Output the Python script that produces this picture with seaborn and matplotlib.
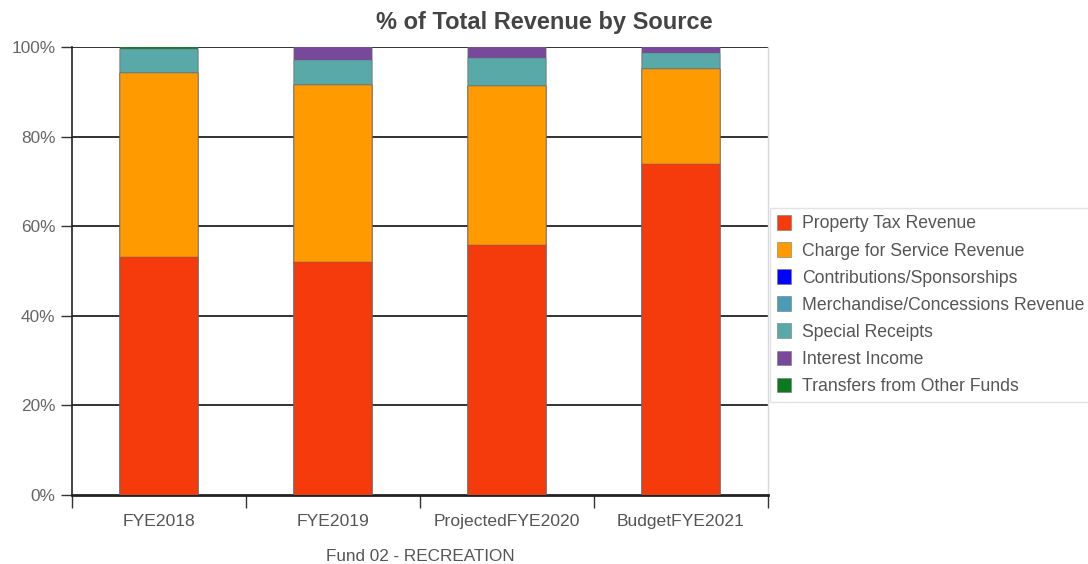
import numpy as np
import pandas as pd
import matplotlib
matplotlib.use("Agg")
import matplotlib.pyplot as plt
from matplotlib.patches import Patch
from matplotlib.ticker import FixedLocator, NullFormatter
import seaborn as sns

# Share of total revenue (%) by source and fiscal year
years = ["FYE2018", "FYE2019", "ProjectedFYE2020", "BudgetFYE2021"]
sources = [
    "Property Tax Revenue",
    "Charge for Service Revenue",
    "Contributions/Sponsorships",
    "Merchandise/Concessions Revenue",
    "Special Receipts",
    "Interest Income",
    "Transfers from Other Funds",
]
property_tax = [53.1, 52.0, 55.8, 73.9]
charge_for_service = [41.1, 39.5, 35.4, 21.1]
contributions = [0.0, 0.0, 0.0, 0.0]
merchandise = [0.0, 0.0, 0.0, 0.0]
special_receipts = [5.4, 5.6, 6.3, 3.6]
interest_income = [0.0, 2.9, 2.5, 1.4]
transfers = [0.4, 0.0, 0.0, 0.0]
y_ticks = [0, 20, 40, 60, 80, 100]

colors = ["#f53a0b", "#ff9a00", "#0000ff", "#4a9bb5", "#5aa9a9", "#78489b", "#0c7a1c"]
series = [property_tax, charge_for_service, contributions, merchandise,
          special_receipts, interest_income, transfers]

sns.set_theme(style="white")
plt.rcParams["font.family"] = ["Liberation Sans", "DejaVu Sans"]

df = pd.DataFrame(np.array(series).T, index=years, columns=sources)
cum = df.cumsum(axis=1)

fig = plt.figure(figsize=(10.88, 5.64), dpi=100)
ax = fig.add_axes([72 / 1088, 1 - 495 / 564, 696 / 1088, 448 / 564])

# Stacked bars: draw cumulative totals from the top segment down
for src, col in reversed(list(zip(sources, colors))):
    tmp = pd.DataFrame({"year": years, "value": cum[src].values})
    sns.barplot(data=tmp, x="year", y="value", color=col, width=0.45,
                edgecolor="#6a6a6a", linewidth=0.35, saturation=1,
                ax=ax, zorder=3)

ax.set_ylim(0, 100)
ax.set_xlim(-0.5, len(years) - 0.5)
ax.set_yticks(y_ticks)
ax.set_yticklabels([f"{t}%" for t in y_ticks])
for t in y_ticks[1:]:
    ax.axhline(t, color="#222222", lw=1.3, zorder=1)

ax.set_xlabel("Fund 02 - RECREATION", color="#555555", fontsize=12.3, labelpad=14)
ax.set_ylabel("")
ax.tick_params(axis="y", which="major", left=True, length=8, width=1,
               color="#333333", labelcolor="#666666", labelsize=12.4, pad=4)
ax.tick_params(axis="x", which="major", bottom=False, labelcolor="#555555",
               labelsize=12.6, pad=8)
ax.xaxis.set_minor_locator(FixedLocator(np.arange(-0.5, len(years), 1.0)))
ax.xaxis.set_minor_formatter(NullFormatter())
ax.tick_params(axis="x", which="minor", bottom=True, length=9, width=1, color="#333333")

for s in ["left", "bottom"]:
    ax.spines[s].set_color("#222222")
ax.spines["left"].set_linewidth(1.2)
ax.spines["bottom"].set_linewidth(2)
ax.spines["top"].set_visible(False)
ax.spines["right"].set_color("#d8d8e0")
ax.spines["right"].set_linewidth(1)

fig.suptitle("% of Total Revenue by Source", x=0.5, y=0.98, fontsize=17,
             fontweight="bold", color="#444444")

handles = [Patch(facecolor=c, edgecolor="#777777", linewidth=0.4) for c in colors]
leg = fig.legend(handles, sources, loc="upper left",
                 bbox_to_anchor=(770 / 1088, 1 - 208 / 564), frameon=True,
                 fontsize=12.7, handlelength=0.8, handleheight=0.9,
                 handletextpad=0.6, labelspacing=0.55, borderpad=0.4,
                 borderaxespad=0, fancybox=False)
leg.get_frame().set_edgecolor("#dddddd")
leg.get_frame().set_linewidth(1)
for txt in leg.get_texts():
    txt.set_color("#555555")

fig.savefig("out.png", dpi=100, facecolor="white")
